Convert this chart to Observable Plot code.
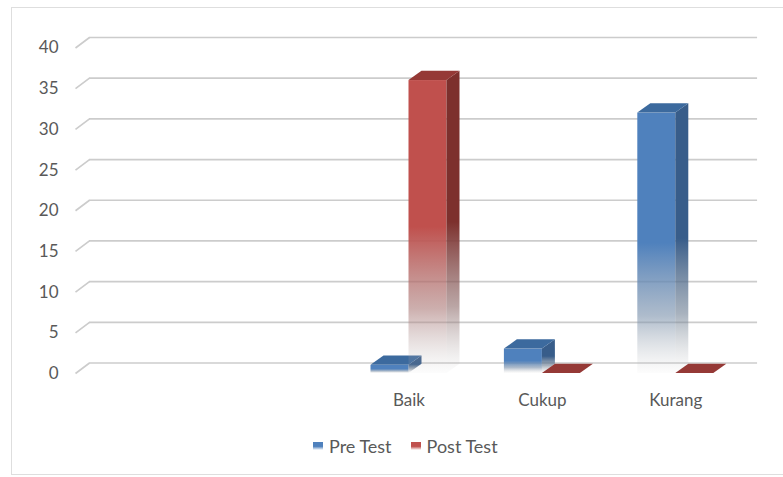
<!DOCTYPE html>
<html>
<head>
<meta charset="utf-8">
<script src="https://cdn.jsdelivr.net/npm/d3@7"></script>
<script src="https://cdn.jsdelivr.net/npm/@observablehq/plot@0.6"></script>
<style>
  html, body { margin: 0; padding: 0; background: #fff; }
  body { width: 783px; height: 477px; position: relative; overflow: hidden; font-family: Lato, "Open Sans", sans-serif; }
  #frame { position: absolute; left: 11px; top: 7px; width: 800px; height: 468px; border: 1px solid #dedede; box-sizing: border-box; }
  #chart { position: absolute; left: 0; top: 0; }
  #legend { position: absolute; left: 313px; top: 436px; display: flex; align-items: center; font-size: 18px; color: #595959; line-height: 20px; }
  .item { display: flex; align-items: center; margin-right: 19px; }
  .sw { width: 10px; height: 8px; margin-right: 6px; }
</style>
</head>
<body>
<div id="frame"></div>
<div id="chart"></div>
<div id="legend"></div>
<script>
// ---- data ----
const categories = ["", " ", "Baik", "Cukup", "Kurang"];
const seriesNames = ["Pre Test", "Post Test"];
const preTest = [null, null, 1, 3, 32];
const postTest = [null, null, 36, 0, 0];
const yTicks = [0, 5, 10, 15, 20, 25, 30, 35, 40];

// ---- layout ----
const W = 783, H = 425;
const mL = 75, mR = 41, mT = 47.5, y0px = 373, mB = H - y0px;
const pxPerX = (W - mL - mR) / categories.length;
const pxPerY = (y0px - mT) / 40;
const gridDx = 14 / pxPerX, gridDy = 10.5 / pxPerY;
const barDx = 13 / pxPerX, barDy = 9.3 / pxPerY;
const barW = 38 / pxPerX;

const colors = {
  front: ["#4F81BD", "#C0504D"],
  side: ["#385D8A", "#7D302D"],
  top: ["#3C6A9E", "#953936"]
};

const rows = [];
[preTest, postTest].forEach((arr, s) => {
  arr.forEach((v, i) => {
    if (v === null) return;
    const x1 = i + 0.5 - barW + s * barW;
    rows.push({s, i, v, x1, x2: x1 + barW, id: s + "-" + i});
  });
});

function sidePts(s) {
  const out = [];
  rows.filter(r => r.s === s && r.v > 0).forEach(r => {
    out.push({id: r.id, x: r.x2, y1: 0, y2: r.v});
    out.push({id: r.id, x: r.x2 + barDx, y1: barDy, y2: r.v + barDy});
  });
  return out;
}
function topPts(s) {
  const out = [];
  rows.filter(r => r.s === s).forEach(r => {
    out.push({id: r.id, y: r.v, x1: r.x1, x2: r.x2});
    out.push({id: r.id, y: r.v + barDy, x1: r.x1 + barDx, x2: r.x2 + barDx});
  });
  return out;
}

function defsMark() {
  const defs = d3.create("svg:defs");
  const mk = (id, c) => {
    const g = defs.append("linearGradient").attr("id", id)
      .attr("x1", 0).attr("y1", 0).attr("x2", 0).attr("y2", 1);
    const mid = d3.interpolateRgb(c, "#9a9a9a")(0.55);
    g.append("stop").attr("offset", 0).attr("stop-color", c).attr("stop-opacity", 1);
    g.append("stop").attr("offset", 0.5).attr("stop-color", c).attr("stop-opacity", 1);
    g.append("stop").attr("offset", 0.78).attr("stop-color", mid).attr("stop-opacity", 0.6);
    g.append("stop").attr("offset", 1).attr("stop-color", "#bdbdbd").attr("stop-opacity", 0.04);
  };
  mk("gPreFront", colors.front[0]);
  mk("gPostFront", colors.front[1]);
  mk("gPreSide", colors.side[0]);
  mk("gPostSide", colors.side[1]);
  return defs.node();
}

const barMarks = [];
[0, 1].forEach(s => {
  const tag = s === 0 ? "Pre" : "Post";
  barMarks.push(
    Plot.rect(rows.filter(r => r.s === s && r.v > 0), {
      x1: "x1", x2: "x2", y1: () => 0, y2: "v", fill: `url(#g${tag}Front)`
    }),
    Plot.area(sidePts(s), {
      x1: "x", y1: "y1", y2: "y2", z: "id", fill: `url(#g${tag}Side)`
    }),
    Plot.area(topPts(s), {
      y1: "y", x1: "x1", x2: "x2", z: "id", fill: colors.top[s]
    })
  );
});

const namedTicks = categories.map((c, i) => ({c, i})).filter(d => d.c.trim() !== "").map(d => d.i + 0.5);

const chart = Plot.plot({
  width: W,
  height: H,
  marginLeft: mL,
  marginRight: mR,
  marginTop: mT,
  marginBottom: mB,
  style: {background: "transparent", fontFamily: "Lato, 'Open Sans', sans-serif", fontSize: "17px", color: "#595959", overflow: "visible"},
  x: {type: "linear", domain: [0, categories.length]},
  y: {type: "linear", domain: [0, 40]},
  marks: [
    defsMark,
    Plot.ruleY(yTicks, {y: d => d + gridDy, x1: () => gridDx, x2: () => categories.length + gridDx + 0.008, stroke: "#cccccc", strokeWidth: 1.7}),
    Plot.link(yTicks, {x1: () => 0, y1: d => d, x2: () => gridDx, y2: d => d + gridDy, stroke: "#cccccc", strokeWidth: 1.7}),
    ...barMarks,
    Plot.axisY({ticks: yTicks, tickSize: 0, tickPadding: 17, label: null, tickFormat: d => String(d), fill: "#595959"}),
    Plot.axisX({ticks: namedTicks, tickSize: 0, tickPadding: 20, label: null, tickFormat: d => categories[Math.floor(d)], fill: "#595959"})
  ]
});
document.getElementById("chart").appendChild(chart);

// ---- legend ----
const legend = d3.select("#legend");
seriesNames.forEach((name, s) => {
  const it = legend.append("div").attr("class", "item");
  it.append("div").attr("class", "sw")
    .style("background", `linear-gradient(to bottom, ${colors.front[s]} 0%, ${colors.front[s]} 55%, rgba(255,255,255,0.6) 100%)`);
  it.append("span").text(name);
});
</script>
</body>
</html>
